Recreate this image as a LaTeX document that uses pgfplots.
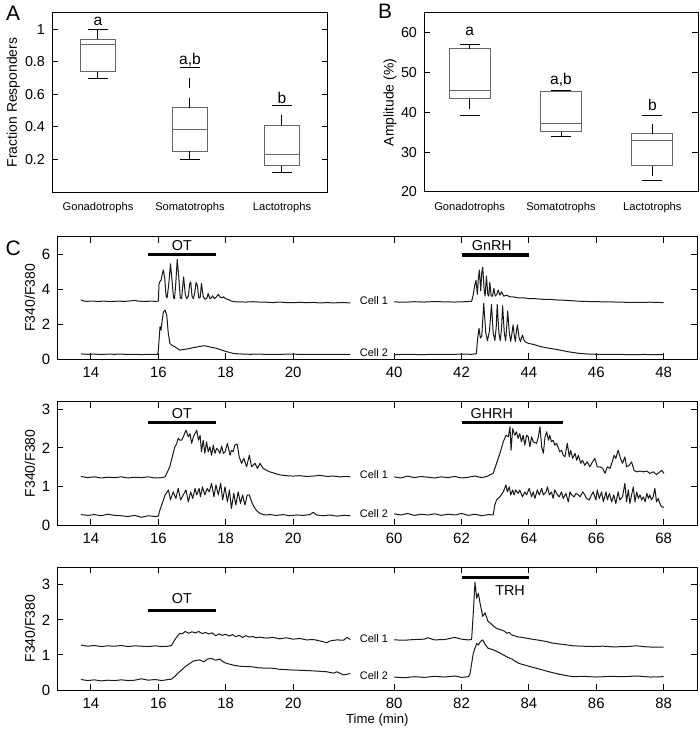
\documentclass[border=0pt]{standalone}
\usepackage{fontspec}
\setmainfont{Liberation Sans}
\usepackage{pgfplots}
\pgfplotsset{compat=1.18}

\newcommand{\fs}[1]{\fontsize{#1}{#1}\selectfont}

\pgfplotsset{
  base/.style={
    scale only axis, clip=false,
    axis line style={line width=0.5bp},
    every tick/.style={black, line width=0.5bp},
    major tick length=3bp,
    tick align=inside,
    /pgf/number format/assume math mode=true,
    every axis y label/.style={rotate=90, anchor=center, font=\fs{7}},
    every axis x label/.style={anchor=center, font=\fs{6.6}},
  },
  boxaxis/.style={
    base,
    height=89.5bp,
    xmin=0.5, xmax=3.5,
    xtick={1,2,3},
    xticklabels={Gonadotrophs,Somatotrophs,Lactotrophs},
    x tick style={draw=none},
    xticklabel style={font=\fs{5.6}, yshift=-1.5bp},
    yticklabel style={font=\fs{7.2}},
    unbounded coords=jump,
  },
  boxs/.style={draw=black!60, line width=0.5bp},
  whisk/.style={black, line width=0.5bp, dash pattern=on 5bp off 5bp},
  caps/.style={black, line width=0.5bp},
  traceaxis/.style={
    base,
    width=320bp,
    xmin=13, xmax=32,
    xtick={14,16,18,20,23,25,27,29,31},
    xticklabels={14,16,18,20,#1},
    tick label style={font=\fs{7.5}},
    xticklabel style={yshift=-0.5bp},
    ylabel={F340/F380},
    every axis y label/.append style={at={(axis description cs:-0.0427,0.5)}},
  },
  trace/.style={black!90, line width=0.5bp, line join=round},
  stim/.style={black, line width=1.6bp},
}

\begin{document}
\begin{tikzpicture}
\useasboundingbox (0,0) rectangle (350bp,-364.5bp);

% ---------------- A
\begin{axis}[boxaxis, at={(26bp,-6.5bp)}, anchor=north west, width=138bp,
  ymin=0, ymax=1.1, ytick={0.2,0.4,0.6,0.8,1}, yticklabels={0.2,0.4,0.6,0.8,1},
  ylabel={Fraction Responders},
  ylabel style={at={(axis description cs:-0.14,0.5)}}]
\addplot[boxs] coordinates {(0.806,0.738)(1.194,0.738)(1.194,0.939)(0.806,0.939)(0.806,0.738) (2,nan)
  (1.806,0.251)(2.194,0.251)(2.194,0.519)(1.806,0.519)(1.806,0.251) (3,nan)
  (2.806,0.160)(3.194,0.160)(3.194,0.409)(2.806,0.409)(2.806,0.160)};
\addplot[boxs] coordinates {(0.806,0.909)(1.194,0.909)(2,nan)(1.806,0.387)(2.194,0.387)(3,nan)(2.806,0.232)(3.194,0.232)};
\addplot[whisk] coordinates {(1,0.939)(1,1.0)(1,nan)(1,0.738)(1,0.696)(2,nan)
  (2,0.519)(2,0.763)(2,nan)(2,0.251)(2,0.198)(3,nan)(3,0.409)(3,0.533)(3,nan)(3,0.160)(3,0.117)};
\addplot[caps] coordinates {(0.887,1.0)(1.113,1.0)(1,nan)(0.887,0.696)(1.113,0.696)(2,nan)
  (1.887,0.763)(2.113,0.763)(2,nan)(1.887,0.198)(2.113,0.198)(3,nan)
  (2.887,0.533)(3.113,0.533)(3,nan)(2.887,0.117)(3.113,0.117)};
\node[font=\fs{7.8}] at (axis cs:1,1.05) {a};
\node[font=\fs{7.8}] at (axis cs:2,0.81) {a,b};
\node[font=\fs{7.8}] at (axis cs:3,0.575) {b};
\end{axis}

% ---------------- B
\begin{axis}[boxaxis, at={(212bp,-6.5bp)}, anchor=north west, width=137bp,
  ymin=20, ymax=65, ytick={20,30,40,50,60},
  ylabel={Amplitude (\%)},
  ylabel style={at={(axis description cs:-0.124,0.5)}}]
\addplot[boxs] coordinates {(0.775,43.45)(1.225,43.45)(1.225,56.06)(0.775,56.06)(0.775,43.45) (2,nan)
  (1.775,35.13)(2.225,35.13)(2.225,45.3)(1.775,45.3)(1.775,35.13) (3,nan)
  (2.775,26.63)(3.225,26.63)(3.225,34.63)(2.775,34.63)(2.775,26.63)};
\addplot[boxs] coordinates {(0.775,45.47)(1.225,45.47)(2,nan)(1.775,37.3)(2.225,37.3)(3,nan)(2.775,32.94)(3.225,32.94)};
\addplot[whisk] coordinates {(1,56.06)(1,56.97)(1,nan)(1,43.45)(1,39.3)(2,nan)
  (2,45.3)(2,45.62)(2,nan)(2,35.13)(2,33.95)(3,nan)(3,34.63)(3,39.24)(3,nan)(3,26.63)(3,22.85)};
\addplot[caps] coordinates {(0.89,56.97)(1.11,56.97)(1,nan)(0.89,39.3)(1.11,39.3)(2,nan)
  (1.89,45.62)(2.11,45.62)(2,nan)(1.89,33.95)(2.11,33.95)(3,nan)
  (2.89,39.24)(3.11,39.24)(3,nan)(2.89,22.85)(3.11,22.85)};
\node[font=\fs{7.8}] at (axis cs:1,60.5) {a};
\node[font=\fs{7.8}] at (axis cs:2,48.3) {a,b};
\node[font=\fs{7.8}] at (axis cs:3,42.0) {b};
\end{axis}

% ---------------- C, row 1 (OT / GnRH)
\begin{axis}[traceaxis={40,42,44,46,48}, at={(28.65bp,-118.35bp)}, anchor=north west,
  height=61.15bp, ymin=0, ymax=7, ytick={0,2,4,6}]
\addplot[trace] coordinates {(13.7,3.38)(13.8,3.31)(13.9,3.30)(14.0,3.32)(14.2,3.30)(14.4,3.31)(14.6,3.29)(14.8,3.31)(15.0,3.30)(15.2,3.33)(15.3,3.36)(15.4,3.31)(15.6,3.30)(15.8,3.31)(15.95,3.30)(16.0,3.32)
 (16.02,4.3)(16.05,4.45)(16.08,4.5)(16.11,4.8)(16.15,5.1)(16.19,4.6)(16.23,3.6)(16.26,3.5)(16.31,4.3)(16.36,5.45)(16.41,4.4)(16.45,3.5)(16.48,3.45)(16.52,4.4)(16.56,5.7)(16.61,4.6)(16.65,3.5)(16.69,3.45)(16.72,4.1)(16.75,4.7)(16.8,3.7)(16.84,3.45)(16.89,3.6)(16.93,4.3)(16.96,4.42)(17.0,3.6)(17.04,3.45)(17.08,3.8)(17.12,4.38)(17.16,4.2)(17.2,3.5)(17.24,3.5)(17.26,3.9)(17.28,4.32)(17.33,3.6)(17.38,3.42)(17.44,3.48)(17.48,3.75)(17.53,3.45)(17.57,3.5)(17.61,3.62)(17.66,3.45)(17.72,3.55)(17.78,3.7)(17.83,3.55)(17.88,3.5)(17.93,3.56)(18.0,3.45)(18.08,3.40)(18.15,3.33)(18.25,3.28)(18.4,3.27)(18.6,3.26)(18.8,3.28)(19.0,3.26)(19.2,3.25)(19.4,3.23)(19.6,3.26)(19.8,3.23)(20.0,3.22)(20.2,3.25)(20.4,3.22)(20.6,3.24)(20.8,3.21)(21.0,3.23)(21.2,3.21)(21.4,3.23)(21.6,3.22)(21.7,3.21)};
\addplot[trace] coordinates {(13.7,0.29)(13.9,0.27)(14.1,0.28)(14.3,0.26)(14.5,0.28)(14.7,0.27)(14.9,0.28)(15.1,0.26)(15.3,0.27)(15.5,0.25)(15.7,0.27)(15.9,0.26)(15.98,0.27)(16.0,0.5)(16.05,1.85)(16.08,1.66)(16.12,2.3)(16.15,2.7)(16.2,2.8)(16.25,2.51)(16.29,1.56)(16.34,0.9)(16.39,0.8)(16.49,0.7)(16.64,0.51)(16.84,0.57)(17.04,0.65)(17.23,0.72)(17.38,0.76)(17.53,0.69)(17.73,0.61)(17.88,0.51)(18.03,0.42)(18.22,0.32)(18.42,0.29)(18.72,0.27)(19.0,0.28)(19.3,0.26)(19.6,0.27)(20.0,0.28)(20.3,0.26)(20.6,0.27)(21.0,0.26)(21.3,0.27)(21.7,0.26)};
\addplot[trace, x filter/.expression={x-17}] coordinates {(40.0,3.27)(40.3,3.25)(40.6,3.28)(40.9,3.26)(41.2,3.29)(41.5,3.27)(41.8,3.26)(42.1,3.28)(42.3,3.30)(42.35,3.7)(42.39,4.2)(42.43,4.5)(42.47,3.7)(42.50,4.6)(42.53,5.1)(42.57,3.9)(42.60,4.9)(42.63,5.25)(42.67,4.0)(42.70,3.6)(42.74,4.75)(42.78,3.7)(42.81,3.6)(42.84,4.4)(42.88,3.6)(42.92,3.6)(42.96,4.05)(43.0,3.6)(43.05,3.7)(43.09,3.95)(43.14,3.65)(43.19,3.85)(43.25,3.6)(43.34,3.65)(43.45,3.55)(43.55,3.55)(43.7,3.5)(43.85,3.5)(44.0,3.46)(44.2,3.45)(44.4,3.42)(44.6,3.42)(44.8,3.38)(45.0,3.37)(45.3,3.33)(45.6,3.3)(46.0,3.28)(46.4,3.27)(46.8,3.25)(47.2,3.24)(47.6,3.25)(48.0,3.23)};
\addplot[trace, x filter/.expression={x-17}] coordinates {(40.0,0.25)(40.4,0.27)(40.8,0.25)(41.2,0.27)(41.6,0.26)(42.0,0.28)(42.3,0.27)(42.44,0.3)(42.48,1.2)(42.52,1.75)(42.56,1.2)(42.60,1.3)(42.66,3.18)(42.72,1.5)(42.77,1.05)(42.83,1.6)(42.89,3.12)(42.94,1.5)(42.99,1.05)(43.03,1.8)(43.06,3.12)(43.11,1.5)(43.15,1.05)(43.19,1.8)(43.22,3.05)(43.27,1.5)(43.31,1.05)(43.34,1.8)(43.37,2.75)(43.42,1.5)(43.46,1.0)(43.5,1.5)(43.53,1.95)(43.57,1.3)(43.60,1.0)(43.63,1.6)(43.66,1.95)(43.71,1.2)(43.75,1.0)(43.78,1.2)(43.81,1.37)(43.86,1.05)(43.92,0.95)(43.98,0.9)(44.1,0.85)(44.2,0.8)(44.33,0.72)(44.5,0.65)(44.65,0.6)(44.82,0.55)(45.0,0.48)(45.15,0.42)(45.32,0.37)(45.5,0.32)(45.81,0.28)(46.2,0.26)(46.6,0.27)(47.0,0.25)(47.4,0.26)(47.8,0.25)(48.0,0.26)};
\addplot[stim] coordinates {(15.7,6)(17.7,6)};
\addplot[stim, x filter/.expression={x-17}] coordinates {(42,5.95)(44,5.95)};
\node[font=\fs{7.2}] at (axis cs:16.7,6.51) {OT};
\node[font=\fs{7.2}] at (axis cs:25.9,6.51) {GnRH};
\node[font=\fs{5.5}] at (axis cs:22.4,3.37) {Cell 1};
\node[font=\fs{5.5}] at (axis cs:22.4,0.38) {Cell 2};
\end{axis}

% ---------------- C, row 2 (OT / GHRH)
\begin{axis}[traceaxis={60,62,64,66,68}, at={(28.65bp,-200.85bp)}, anchor=north west,
  height=61.65bp, ymin=0, ymax=3.2, ytick={0,1,2,3}]
\addplot[trace] coordinates {(13.7,1.26)(13.9,1.23)(14.1,1.25)(14.3,1.22)(14.5,1.24)(14.7,1.23)(14.9,1.25)(15.1,1.22)(15.3,1.24)(15.5,1.23)(15.7,1.25)(15.9,1.22)(16.1,1.23)(16.2,1.25)(16.34,1.51)(16.44,1.86)(16.49,2.03)(16.54,2.1)(16.59,2.25)(16.64,2.2)(16.69,2.2)(16.74,2.29)(16.82,2.46)(16.89,2.29)(16.94,2.37)(16.99,2.12)(17.04,2.29)(17.14,2.46)(17.19,2.2)(17.24,2.33)(17.28,1.9)(17.33,2.2)(17.38,1.86)(17.43,2.16)(17.48,1.9)(17.53,2.03)(17.58,1.81)(17.63,2.07)(17.68,1.86)(17.73,1.99)(17.78,1.94)(17.83,1.86)(17.88,2.05)(17.93,1.86)(17.98,1.9)(18.05,2.12)(18.13,1.81)(18.17,1.94)(18.22,1.9)(18.27,2.07)(18.34,2.1)(18.4,1.77)(18.47,1.6)(18.54,1.73)(18.62,1.51)(18.7,1.81)(18.77,1.51)(18.87,1.6)(18.94,1.47)(19.02,1.6)(19.11,1.47)(19.21,1.42)(19.31,1.38)(19.46,1.34)(19.61,1.3)(19.8,1.28)(20.0,1.27)(20.2,1.28)(20.4,1.26)(20.6,1.27)(20.8,1.29)(21.0,1.26)(21.2,1.27)(21.4,1.25)(21.6,1.26)(21.7,1.25)};
\addplot[trace] coordinates {(13.7,0.27)(13.9,0.25)(14.1,0.27)(14.3,0.24)(14.5,0.28)(14.7,0.25)(14.9,0.24)(15.1,0.22)(15.3,0.25)(15.5,0.20)(15.7,0.24)(15.9,0.22)(16.0,0.23)(16.05,0.4)(16.15,0.65)(16.2,0.78)(16.3,0.91)(16.36,0.65)(16.44,0.86)(16.52,0.69)(16.59,0.95)(16.66,0.65)(16.74,0.78)(16.82,0.91)(16.89,0.6)(16.96,0.86)(17.02,0.69)(17.09,0.95)(17.14,0.78)(17.21,0.95)(17.25,0.73)(17.31,0.99)(17.38,0.78)(17.45,0.95)(17.51,0.86)(17.58,1.08)(17.65,0.73)(17.71,1.04)(17.78,0.78)(17.85,1.08)(17.91,0.65)(17.98,0.99)(18.05,0.6)(18.11,0.91)(18.17,0.43)(18.24,0.82)(18.3,0.52)(18.37,0.86)(18.44,0.56)(18.5,0.78)(18.57,0.52)(18.64,0.78)(18.7,0.78)(18.77,0.6)(18.84,0.47)(18.92,0.37)(19.02,0.3)(19.16,0.26)(19.31,0.27)(19.5,0.25)(19.7,0.27)(19.9,0.24)(20.1,0.26)(20.3,0.25)(20.5,0.27)(20.6,0.33)(20.7,0.26)(20.9,0.24)(21.1,0.26)(21.3,0.23)(21.5,0.25)(21.7,0.24)};
\addplot[trace, x filter/.expression={x-37}] coordinates {(60.0,1.25)(60.2,1.22)(60.4,1.27)(60.6,1.23)(60.8,1.26)(61.0,1.24)(61.2,1.22)(61.4,1.25)(61.6,1.23)(61.8,1.26)(62.0,1.22)(62.2,1.24)(62.4,1.27)(62.6,1.23)(62.75,1.26)(62.84,1.3)(62.94,1.34)(63.04,1.6)(63.14,1.86)(63.24,2.16)(63.32,2.33)(63.39,2.29)(63.44,2.55)(63.47,1.94)(63.52,2.5)(63.58,2.33)(63.63,2.42)(63.68,2.25)(63.73,2.37)(63.78,2.16)(63.83,2.33)(63.88,2.07)(63.93,2.33)(63.98,2.29)(64.03,2.03)(64.08,2.29)(64.13,2.16)(64.23,2.12)(64.28,2.29)(64.33,2.55)(64.38,2.03)(64.43,1.86)(64.48,2.29)(64.53,2.42)(64.58,2.2)(64.62,2.33)(64.67,2.16)(64.72,2.2)(64.77,2.07)(64.82,2.12)(64.92,1.9)(64.97,1.94)(65.02,1.81)(65.07,1.77)(65.14,2.12)(65.2,1.77)(65.24,1.94)(65.3,1.73)(65.37,1.86)(65.42,1.68)(65.47,1.81)(65.54,1.6)(65.59,1.68)(65.66,1.55)(65.73,1.64)(65.81,1.51)(65.89,1.64)(65.96,1.73)(66.03,1.51)(66.11,1.51)(66.19,1.47)(66.26,1.34)(66.33,1.51)(66.41,1.47)(66.49,1.68)(66.53,1.81)(66.58,1.73)(66.65,1.94)(66.72,1.73)(66.78,1.6)(66.85,1.77)(66.9,1.51)(66.98,1.55)(67.05,1.64)(67.12,1.42)(67.2,1.38)(67.3,1.4)(67.4,1.38)(67.5,1.4)(67.59,1.34)(67.69,1.38)(67.79,1.31)(67.89,1.38)(67.94,1.42)(68.01,1.34)};
\addplot[trace, x filter/.expression={x-37}] coordinates {(60.0,0.29)(60.2,0.26)(60.4,0.3)(60.6,0.25)(60.8,0.28)(61.0,0.26)(61.2,0.29)(61.4,0.25)(61.6,0.28)(61.8,0.26)(62.0,0.3)(62.2,0.25)(62.4,0.28)(62.6,0.24)(62.8,0.27)(62.94,0.26)(62.99,0.52)(63.04,0.65)(63.14,0.73)(63.24,0.86)(63.32,1.04)(63.36,0.86)(63.42,0.99)(63.46,0.78)(63.52,0.91)(63.56,0.78)(63.61,0.91)(63.68,0.82)(63.73,0.91)(63.81,0.73)(63.88,0.86)(63.93,0.78)(64.01,0.95)(64.08,0.73)(64.13,0.86)(64.18,0.69)(64.25,0.91)(64.31,0.78)(64.38,0.95)(64.43,0.78)(64.51,0.86)(64.55,0.99)(64.61,0.78)(64.67,0.86)(64.72,0.69)(64.77,0.91)(64.82,0.82)(64.9,0.73)(64.97,0.86)(65.02,0.69)(65.1,0.82)(65.17,0.6)(65.22,0.86)(65.27,0.78)(65.34,0.73)(65.4,0.82)(65.47,0.78)(65.52,0.73)(65.6,0.86)(65.66,0.78)(65.71,0.69)(65.79,0.65)(65.86,0.78)(65.91,0.86)(65.99,0.65)(66.03,0.91)(66.09,0.69)(66.16,0.86)(66.21,0.6)(66.29,0.86)(66.33,0.65)(66.39,0.82)(66.46,0.6)(66.52,0.78)(66.58,0.56)(66.65,0.86)(66.7,0.65)(66.78,0.73)(66.85,1.08)(66.9,0.6)(66.95,0.91)(67.0,0.56)(67.05,0.78)(67.1,0.99)(67.15,0.6)(67.2,0.86)(67.25,0.69)(67.3,0.78)(67.35,0.65)(67.4,0.73)(67.45,0.6)(67.5,0.82)(67.55,0.69)(67.59,0.78)(67.64,0.65)(67.69,0.73)(67.74,0.95)(67.79,0.6)(67.84,0.69)(67.89,0.56)(67.94,0.47)(68.01,0.46)};
\addplot[stim] coordinates {(15.7,2.66)(17.7,2.66)};
\addplot[stim, x filter/.expression={x-37}] coordinates {(62,2.66)(65,2.66)};
\node[font=\fs{7.2}] at (axis cs:16.7,2.89) {OT};
\node[font=\fs{7.2}] at (axis cs:25.9,2.89) {GHRH};
\node[font=\fs{5.5}] at (axis cs:22.4,1.31) {Cell 1};
\node[font=\fs{5.5}] at (axis cs:22.4,0.30) {Cell 2};
\end{axis}

% ---------------- C, row 3 (OT / TRH)
\begin{axis}[traceaxis={80,82,84,86,88}, at={(28.65bp,-283.65bp)}, anchor=north west,
  height=61.35bp, ymin=0, ymax=3.5, ytick={0,1,2,3},
  xlabel={Time (min)}, xlabel style={at={(axis description cs:0.5,-0.245)}}]
\addplot[trace] coordinates {(13.7,1.28)(13.9,1.25)(14.1,1.27)(14.3,1.24)(14.5,1.26)(14.7,1.25)(14.9,1.27)(15.1,1.24)(15.3,1.26)(15.5,1.25)(15.7,1.24)(15.9,1.26)(16.1,1.24)(16.3,1.25)(16.39,1.27)(16.5,1.45)(16.59,1.57)(16.65,1.62)(16.7,1.6)(16.8,1.67)(16.9,1.62)(17.0,1.66)(17.1,1.63)(17.2,1.67)(17.3,1.61)(17.4,1.64)(17.5,1.6)(17.6,1.63)(17.7,1.55)(17.8,1.6)(17.9,1.56)(18.0,1.59)(18.1,1.54)(18.2,1.58)(18.3,1.52)(18.4,1.56)(18.5,1.5)(18.6,1.55)(18.7,1.51)(18.8,1.53)(18.9,1.49)(19.0,1.51)(19.2,1.48)(19.4,1.5)(19.6,1.46)(19.8,1.49)(20.0,1.45)(20.2,1.47)(20.4,1.43)(20.6,1.44)(20.8,1.4)(21.0,1.35)(21.1,1.4)(21.3,1.43)(21.5,1.42)(21.6,1.5)(21.7,1.44)};
\addplot[trace] coordinates {(13.7,0.3)(13.9,0.27)(14.1,0.29)(14.3,0.26)(14.5,0.28)(14.7,0.27)(14.9,0.29)(15.1,0.27)(15.3,0.28)(15.5,0.32)(15.7,0.28)(15.9,0.3)(16.1,0.27)(16.3,0.3)(16.39,0.31)(16.5,0.4)(16.6,0.5)(16.69,0.57)(16.8,0.67)(16.94,0.76)(17.05,0.83)(17.23,0.86)(17.35,0.8)(17.45,0.88)(17.58,0.9)(17.7,0.85)(17.83,0.88)(17.93,0.8)(18.03,0.76)(18.22,0.71)(18.4,0.68)(18.6,0.67)(18.8,0.66)(19.0,0.63)(19.41,0.62)(19.6,0.59)(20.0,0.57)(20.3,0.56)(20.7,0.54)(21.0,0.52)(21.2,0.48)(21.3,0.52)(21.5,0.43)(21.7,0.47)};
\addplot[trace, x filter/.expression={x-57}] coordinates {(80.0,1.43)(80.3,1.42)(80.6,1.44)(80.9,1.45)(81.0,1.49)(81.2,1.43)(81.5,1.44)(81.8,1.50)(82.0,1.45)(82.2,1.43)(82.3,1.44)(82.35,2.2)(82.4,3.07)(82.45,2.62)(82.5,2.76)(82.55,2.48)(82.63,2.1)(82.7,2.2)(82.79,1.95)(82.87,1.9)(82.94,1.83)(83.04,1.76)(83.12,1.73)(83.19,1.71)(83.27,1.68)(83.34,1.62)(83.42,1.64)(83.49,1.57)(83.57,1.55)(83.64,1.52)(83.8,1.5)(84.03,1.46)(84.3,1.42)(84.53,1.38)(84.7,1.34)(84.92,1.31)(85.1,1.29)(85.32,1.26)(85.6,1.25)(85.91,1.24)(86.2,1.25)(86.5,1.23)(86.9,1.24)(87.2,1.26)(87.5,1.23)(87.8,1.22)(88.0,1.22)};
\addplot[trace, x filter/.expression={x-57}] coordinates {(80.0,0.37)(80.3,0.35)(80.6,0.38)(80.9,0.36)(81.2,0.39)(81.5,0.37)(81.8,0.40)(82.0,0.36)(82.2,0.38)(82.25,0.45)(82.35,1.05)(82.45,1.33)(82.5,1.28)(82.56,1.38)(82.63,1.43)(82.7,1.3)(82.79,1.19)(82.9,1.16)(83.0,1.12)(83.15,1.05)(83.34,0.95)(83.5,0.88)(83.7,0.76)(84.03,0.67)(84.3,0.6)(84.6,0.52)(84.9,0.45)(85.3,0.38)(85.6,0.39)(86.0,0.37)(86.4,0.39)(86.8,0.38)(87.2,0.4)(87.6,0.37)(88.0,0.38)};
\addplot[stim] coordinates {(15.7,2.27)(17.7,2.27)};
\addplot[stim, x filter/.expression={x-57}] coordinates {(82,3.22)(84,3.22)};
\node[font=\fs{7.2}] at (axis cs:16.7,2.61) {OT};
\node[font=\fs{7.2}] at (axis cs:26.44,2.84) {TRH};
\node[font=\fs{5.5}] at (axis cs:22.4,1.46) {Cell 1};
\node[font=\fs{5.5}] at (axis cs:22.4,0.41) {Cell 2};
\end{axis}

\node[font=\fs{10.5}] at (6.6bp,-6.6bp) {A};
\node[font=\fs{10.5}] at (192.5bp,-5.5bp) {B};
\node[font=\fs{10.5}] at (6.6bp,-124.3bp) {C};
\end{tikzpicture}
\end{document}
